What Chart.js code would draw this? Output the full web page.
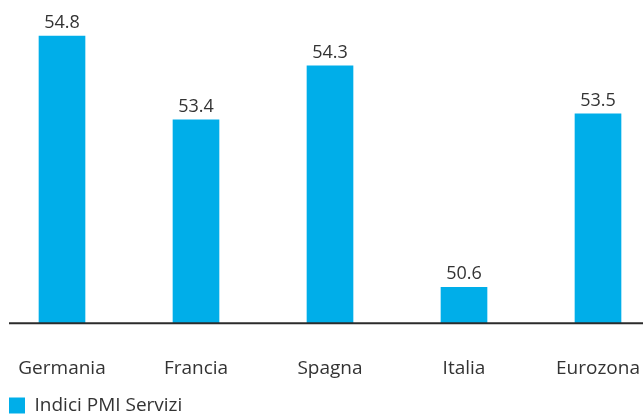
<!DOCTYPE html>
<html>
<head>
<meta charset="utf-8">
<script src="https://cdn.jsdelivr.net/npm/chart.js@4"></script>
<style>
  html, body { margin: 0; padding: 0; background: #fff; overflow: hidden; }
  #wrap { position: absolute; left: -5px; top: 0; width: 670px; height: 425px; }
</style>
</head>
<body>
<div id="wrap"><canvas id="bar-chart"></canvas></div>
<script>
// data
const countries = ['Germania', 'Francia', 'Spagna', 'Italia', 'Eurozona'];
const pmiServizi = [54.8, 53.4, 54.3, 50.6, 53.5];
const seriesName = 'Indici PMI Servizi';
const yMin = 50;
const yMax = 55;

const barColor = '#00aee9';
const textColor = '#333333';
const fontFamily = '"Open Sans", "Noto Sans", sans-serif';

// value on top of each bar
const valueLabels = {
  id: 'valueLabels',
  afterDatasetsDraw(chart) {
    const ctx = chart.ctx;
    const meta = chart.getDatasetMeta(0);
    ctx.save();
    ctx.fillStyle = textColor;
    ctx.font = '18px ' + fontFamily;
    ctx.textAlign = 'center';
    ctx.textBaseline = 'alphabetic';
    meta.data.forEach((bar, i) => {
      ctx.fillText(pmiServizi[i].toFixed(1), bar.x, bar.y - 8);
    });
    ctx.restore();
  }
};

// dark baseline under the bars
const baseLine = {
  id: 'baseLine',
  afterDatasetsDraw(chart) {
    const ctx = chart.ctx;
    const y = chart.scales.y.getPixelForValue(yMin);
    ctx.save();
    ctx.strokeStyle = '#2b2b2b';
    ctx.lineWidth = 2;
    ctx.beginPath();
    ctx.moveTo(chart.chartArea.left + 14, y);
    ctx.lineTo(chart.chartArea.right, y);
    ctx.stroke();
    ctx.restore();
  }
};

new Chart(document.getElementById('bar-chart'), {
  type: 'bar',
  data: {
    labels: countries,
    datasets: [{
      label: seriesName,
      data: pmiServizi,
      backgroundColor: barColor,
      borderWidth: 0,
      barThickness: 46
    }]
  },
  options: {
    responsive: true,
    maintainAspectRatio: false,
    animation: false,
    layout: { padding: { top: 24, left: 0, right: 0, bottom: 0 } },
    scales: {
      y: { display: false, min: yMin, max: yMax },
      x: {
        // invisible tick marks push the labels down without widening the padding
        grid: { display: true, drawOnChartArea: false, drawTicks: true, tickLength: 34, color: 'rgba(0,0,0,0)' },
        border: { display: false },
        ticks: {
          color: textColor,
          font: { family: fontFamily, size: 19 },
          padding: 0
        },
        afterFit(scale) { scale.height += 2; }
      }
    },
    plugins: {
      legend: {
        position: 'bottom',
        align: 'start',
        labels: {
          boxWidth: 16,
          boxHeight: 16,
          color: textColor,
          font: { family: fontFamily, size: 19 },
          padding: 14
        }
      },
      tooltip: { enabled: false }
    }
  },
  plugins: [valueLabels, baseLine]
});
</script>
</body>
</html>
